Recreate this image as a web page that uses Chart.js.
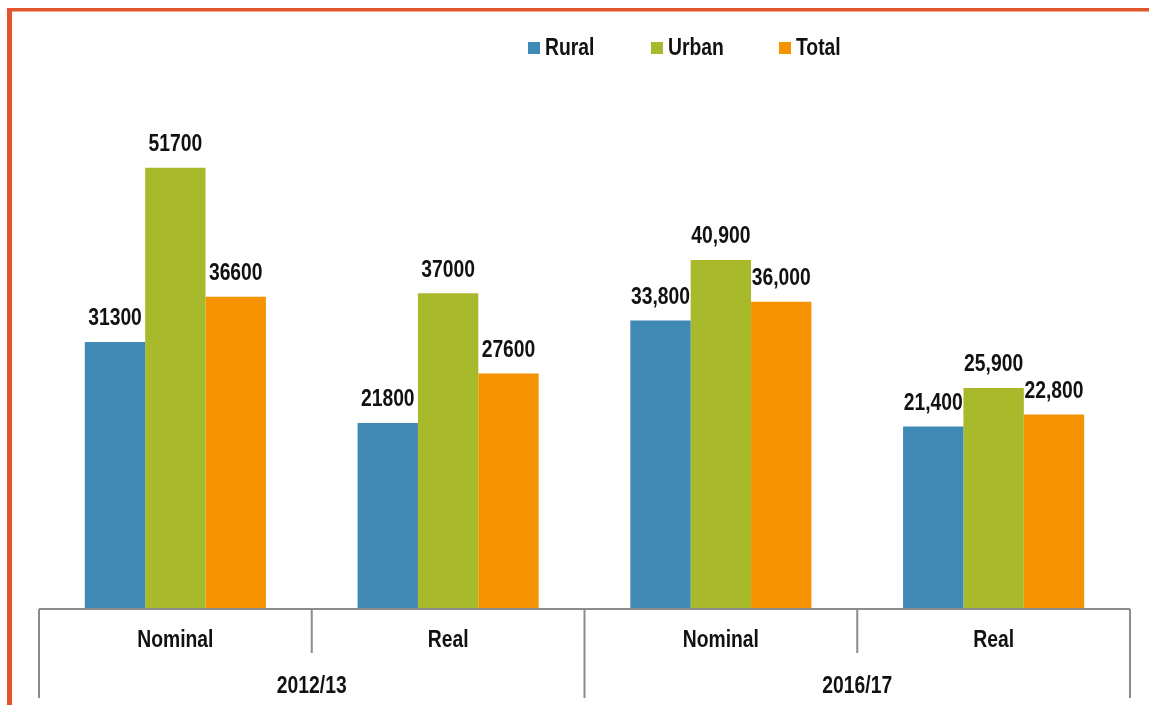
<!DOCTYPE html>
<html><head><meta charset="utf-8">
<script src="https://cdn.jsdelivr.net/npm/chart.js@4"></script>
<style>html,body{margin:0;padding:0;background:#fff;overflow:hidden}#wrap{position:relative;width:1149px;height:705px}</style>
</head><body><div id="wrap"><canvas id="c"></canvas></div>
<script>
// ---- data ----
const periods = ['2012/13', '2016/17'];
const measures = ['Nominal', 'Real', 'Nominal', 'Real'];
const periodOfCategory = [0, 0, 1, 1];
const seriesNames = ['Rural', 'Urban', 'Total'];
const rural = [31300, 21800, 33800, 21400];
const urban = [51700, 37000, 40900, 25900];
const total = [36600, 27600, 36000, 22800];
const labelUsesComma = [false, false, true, true];

// ---- style ----
const colors = ['#4189b5', '#a8b92b', '#f59300'];
const FONT = "'Liberation Sans',Arial,sans-serif";
const CONDENSE = 0.84;
const axisGrey = '#8c8c8c';
const legendX = [528, 651, 779];

function fmt(v, comma) {
  return comma ? v.toLocaleString('en-US') : String(v);
}

function narrowText(ctx, text, x, y, align) {
  ctx.save();
  ctx.translate(x, y);
  ctx.scale(CONDENSE, 1);
  ctx.textAlign = align;
  ctx.fillText(text, 0, 0);
  ctx.restore();
}

const decor = {
  id: 'decor',
  afterDraw(chart) {
    const ctx = chart.ctx;
    const xs = chart.scales.x;
    const area = chart.chartArea;
    const half = (xs.getPixelForValue(1) - xs.getPixelForValue(0)) / 2;
    ctx.save();
    // orange frame
    ctx.fillStyle = '#e2552b';
    ctx.fillRect(7, 8, 5, 705 - 8);
    ctx.fillRect(7, 8, 1149 - 7, 3.5);

    // axis baseline + hierarchy dividers
    ctx.strokeStyle = axisGrey;
    ctx.lineWidth = 2;
    ctx.beginPath();
    ctx.moveTo(area.left, area.bottom);
    ctx.lineTo(area.right, area.bottom);
    for (let i = 0; i <= measures.length; i++) {
      const x = i < measures.length ? xs.getPixelForValue(i) - half : xs.getPixelForValue(i - 1) + half;
      const isPeriodEdge = i === 0 || i === measures.length || periodOfCategory[i] !== periodOfCategory[i - 1];
      ctx.moveTo(x, area.bottom);
      ctx.lineTo(x, isPeriodEdge ? area.bottom + 89 : area.bottom + 44);
    }
    ctx.stroke();

    ctx.fillStyle = '#111';
    ctx.font = 'bold 23px ' + FONT;
    ctx.textBaseline = 'middle';
    measures.forEach((m, i) => {
      narrowText(ctx, m, xs.getPixelForValue(i), area.bottom + 32, 'center');
    });
    periods.forEach((p, k) => {
      const idx = periodOfCategory.map((v, i) => v === k ? i : -1).filter(i => i >= 0);
      const cx = (xs.getPixelForValue(idx[0]) + xs.getPixelForValue(idx[idx.length - 1])) / 2;
      narrowText(ctx, p, cx, area.bottom + 78, 'center');
    });

    // value labels
    chart.data.datasets.forEach((ds, di) => {
      const meta = chart.getDatasetMeta(di);
      meta.data.forEach((bar, i) => {
        narrowText(ctx, fmt(ds.data[i], labelUsesComma[i]), bar.x, bar.y - 23, 'center');
      });
    });

    // legend
    chart.data.datasets.forEach((ds, di) => {
      ctx.fillStyle = ds.backgroundColor;
      ctx.fillRect(legendX[di], 42, 12, 12);
      ctx.fillStyle = '#111';
      narrowText(ctx, ds.label, legendX[di] + 17, 49, 'left');
    });
    ctx.restore();
  }
};

new Chart(document.getElementById('c'), {
  type: 'bar',
  data: {
    labels: measures,
    datasets: [
      { label: seriesNames[0], data: rural, backgroundColor: colors[0] },
      { label: seriesNames[1], data: urban, backgroundColor: colors[1] },
      { label: seriesNames[2], data: total, backgroundColor: colors[2] }
    ]
  },
  options: {
    responsive: true,
    maintainAspectRatio: false,
    devicePixelRatio: 1,
    animation: false,
    layout: { padding: { left: 39, right: 19, top: 97, bottom: 96 } },
    datasets: { bar: { barPercentage: 1, categoryPercentage: 0.664 } },
    plugins: { legend: { display: false }, tooltip: { enabled: false } },
    scales: {
      x: { display: false },
      y: { display: false, min: 0, max: 60000 }
    }
  },
  plugins: [decor]
});
</script>
</body></html>
